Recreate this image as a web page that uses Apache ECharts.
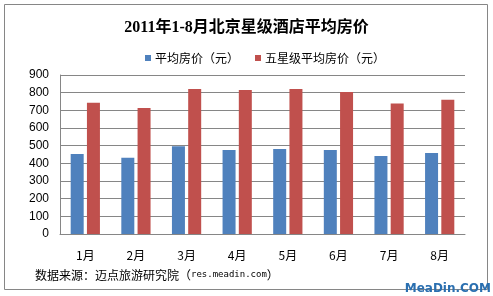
<!DOCTYPE html>
<html><head><meta charset="utf-8">
<script src="https://cdn.jsdelivr.net/npm/echarts@6/dist/echarts.min.js"></script>
<style>html,body{margin:0;padding:0;background:#fff}#c{width:493px;height:296px}</style>
</head><body><div id="c"></div>
<script>
const categories = ['1月','2月','3月','4月','5月','6月','7月','8月'];
const avgPrice = [453, 432, 496, 475, 481, 475, 442, 458];
const fiveStarPrice = [743, 713, 821, 815, 821, 804, 738, 760];
const seriesNames = ['平均房价（元）','五星级平均房价（元）'];
const yTicks = {min: 0, max: 900, interval: 100};

const chart = echarts.init(document.getElementById('c'));
chart.setOption({
  animation: false,
  title: {
    text: '2011年1-8月北京星级酒店平均房价',
    left: 'center', top: 15,
    textStyle: {fontFamily: '"Liberation Serif","Noto Sans CJK SC"', fontWeight: 'bold', fontSize: 16, color: '#000'}
  },
  legend: {
    data: seriesNames, top: 47, left: 140,
    itemWidth: 6, itemHeight: 6, itemGap: 16, icon: 'rect',
    textStyle: {fontFamily: '"Noto Sans CJK SC"', fontSize: 12, color: '#000', padding: [0,0,0,-1]}
  },
  grid: {left: 60, right: 28, top: 75, bottom: 62},
  xAxis: {
    type: 'category', data: categories,
    axisLine: {lineStyle: {color: '#868686'}},
    axisTick: {show: false},
    axisLabel: {fontFamily: '"Noto Sans CJK SC"', fontSize: 12, color: '#000', margin: 15}
  },
  yAxis: {
    type: 'value', min: yTicks.min, max: yTicks.max, interval: yTicks.interval,
    axisLine: {show: true, lineStyle: {color: '#868686'}},
    axisTick: {show: false},
    splitLine: {lineStyle: {color: '#868686'}},
    axisLabel: {fontFamily: '"Liberation Sans"', fontSize: 12, color: '#000', margin: 11}
  },
  series: [
    {name: seriesNames[0], type: 'bar', data: avgPrice, barWidth: 13, barGap: '25%', itemStyle: {color: '#4F81BD'}},
    {name: seriesNames[1], type: 'bar', data: fiveStarPrice, barWidth: 13, itemStyle: {color: '#C0504D'}}
  ],
  graphic: [
    {type: 'rect', shape: {x: 4.5, y: 4.5, width: 483, height: 285}, style: {fill: 'none', stroke: '#868686', lineWidth: 1}, z: -1},
    {type: 'text', left: 35, top: 269, style: {
      text: '{a|数据来源：迈点旅游研究院（}{b|res.meadin.com}{a|）}',
      rich: {
        a: {fontFamily: '"Noto Sans CJK SC"', fontSize: 12, fill: '#000'},
        b: {fontFamily: '"DejaVu Sans Mono"', fontSize: 9, fill: '#000'}
      }
    }},
    {type: 'text', right: 2, top: 283, style: {text: 'MeaDin.COM', font: 'bold 12px "DejaVu Sans"', fill: '#2a6fb0'}}
  ]
});
</script></body></html>
